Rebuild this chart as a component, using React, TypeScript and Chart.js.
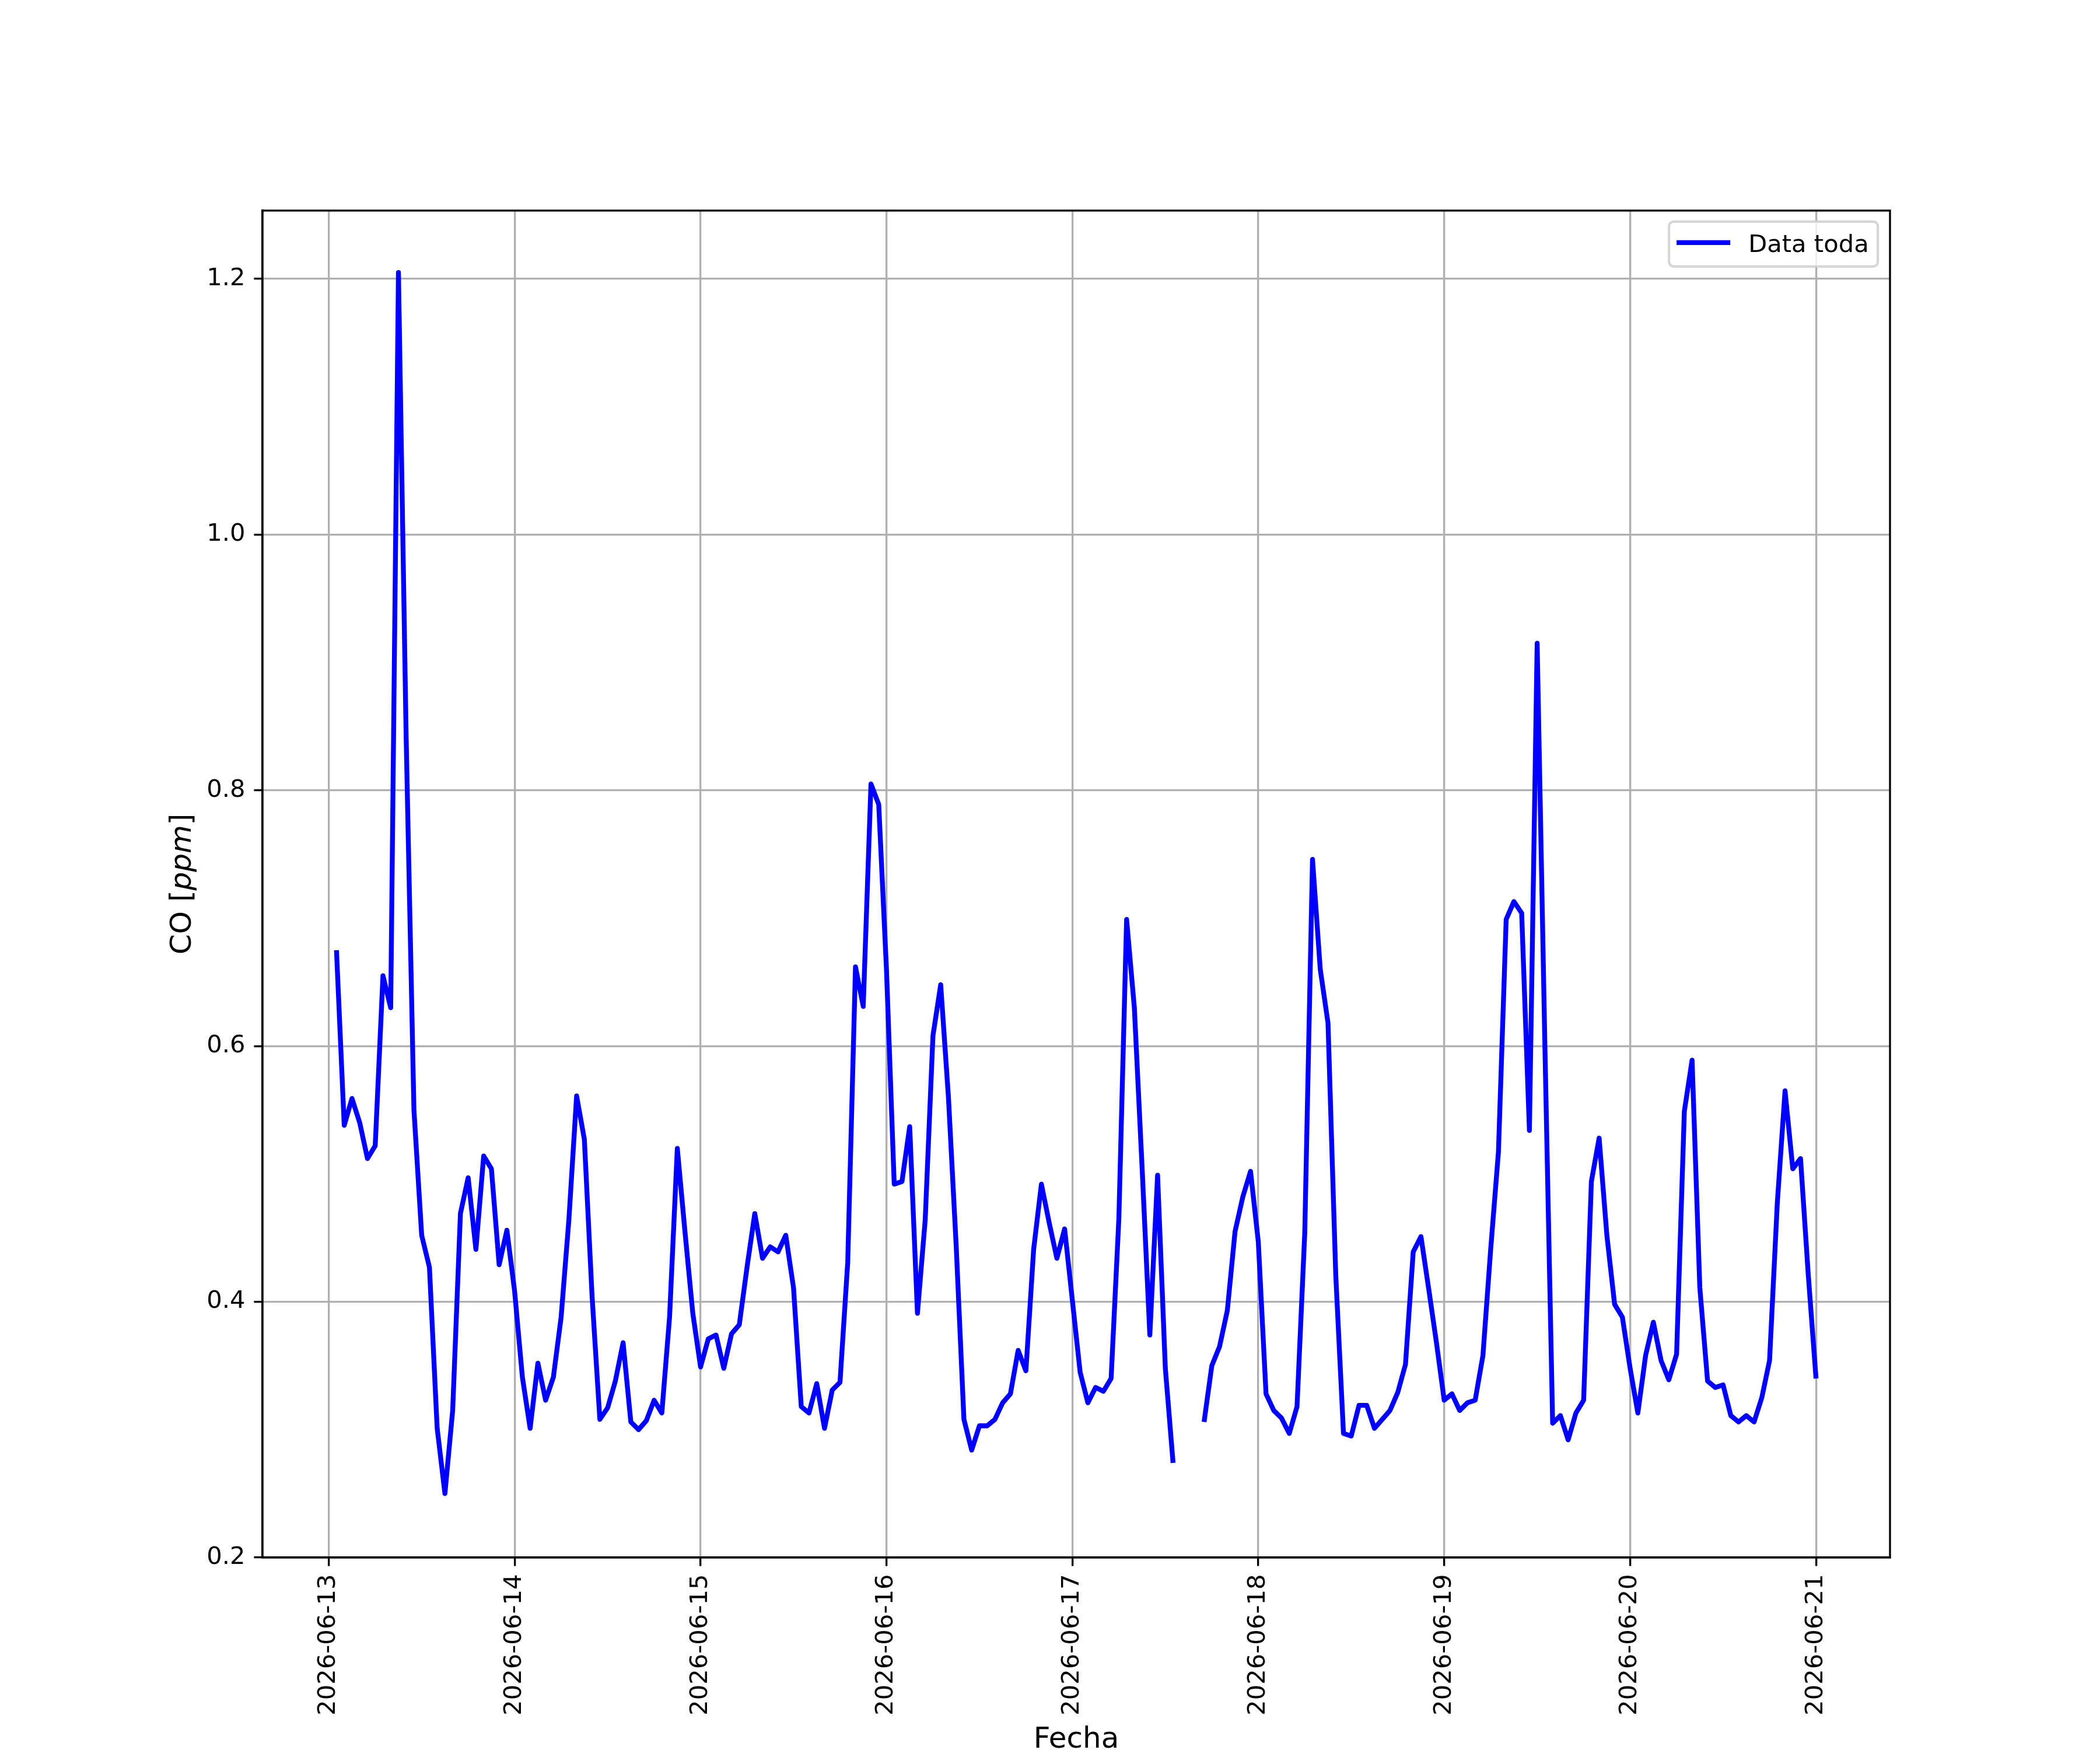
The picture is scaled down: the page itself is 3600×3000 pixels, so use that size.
import { useEffect, useRef } from 'react'

import { Chart, type ChartConfiguration, type Plugin, registerables } from 'chart.js'

Chart.register(...registerables)

// 1 pt a 300 dpi
const PT = 300 / 72
const FONT = '"DejaVu Sans", sans-serif'

// ticks del eje X (un día cada 24 h)
const dayLabels = [
  '2026-06-13', '2026-06-14', '2026-06-15', '2026-06-16', '2026-06-17',
  '2026-06-18', '2026-06-19', '2026-06-20', '2026-06-21',
]
const yTicks = [0.2, 0.4, 0.6, 0.8, 1.0, 1.2]

// CO horario en ppm, de 01:00 a 24:00 de cada día
const co13 = [0.675, 0.538, 0.559, 0.54, 0.512, 0.522, 0.655, 0.63, 1.205, 0.84, 0.55, 0.452, 0.427, 0.301, 0.25, 0.315, 0.469, 0.497, 0.441, 0.514, 0.504, 0.429, 0.456, 0.408]
const co14 = [0.341, 0.301, 0.352, 0.323, 0.341, 0.388, 0.464, 0.561, 0.527, 0.404, 0.308, 0.317, 0.338, 0.368, 0.306, 0.3, 0.307, 0.323, 0.313, 0.388, 0.52, 0.454, 0.391, 0.349]
const co15 = [0.371, 0.374, 0.348, 0.375, 0.382, 0.427, 0.469, 0.434, 0.443, 0.439, 0.452, 0.411, 0.318, 0.313, 0.336, 0.301, 0.331, 0.337, 0.431, 0.662, 0.631, 0.805, 0.789, 0.66]
const co16 = [0.492, 0.494, 0.537, 0.391, 0.464, 0.608, 0.648, 0.56, 0.444, 0.308, 0.284, 0.303, 0.303, 0.308, 0.321, 0.328, 0.362, 0.346, 0.441, 0.492, 0.462, 0.434, 0.457, 0.401]
const co17 = [0.345, 0.321, 0.333, 0.33, 0.34, 0.465, 0.699, 0.63, 0.505, 0.374, 0.499, 0.348, 0.274, null, null, null, 0.306, 0.35, 0.365, 0.393, 0.455, 0.482, 0.502, 0.447]
const co18 = [0.328, 0.315, 0.309, 0.297, 0.318, 0.454, 0.746, 0.66, 0.618, 0.421, 0.297, 0.295, 0.319, 0.319, 0.301, 0.308, 0.315, 0.329, 0.351, 0.439, 0.451, 0.41, 0.368, 0.323]
const co19 = [0.328, 0.315, 0.321, 0.323, 0.358, 0.441, 0.517, 0.699, 0.713, 0.704, 0.534, 0.915, 0.6, 0.305, 0.311, 0.292, 0.313, 0.323, 0.494, 0.528, 0.452, 0.398, 0.388, 0.348]
const co20 = [0.313, 0.358, 0.384, 0.354, 0.339, 0.359, 0.549, 0.589, 0.411, 0.338, 0.333, 0.335, 0.311, 0.306, 0.311, 0.306, 0.325, 0.354, 0.477, 0.565, 0.504, 0.512, 0.421, 0.34]

const coDays = [co13, co14, co15, co16, co17, co18, co19, co20]

// marco superior/derecho, leyenda y títulos de los ejes (ppm en cursiva)
const decorPlugin: Plugin<'line'> = {
  id: 'decor',
  afterDatasetsDraw(chart) {
    const { ctx, chartArea: a } = chart
    ctx.save()
    ctx.strokeStyle = '#000'
    ctx.lineWidth = 0.8 * PT
    ctx.strokeRect(a.left, a.top, a.right - a.left, a.bottom - a.top)

    // leyenda
    const bw = 358
    const bh = 77
    const bx = a.right - 0.5 * 10 * PT - bw
    const by = a.top + 0.5 * 10 * PT - 2
    ctx.beginPath()
    ctx.roundRect(bx, by, bw, bh, 8)
    ctx.fillStyle = 'rgba(255,255,255,0.8)'
    ctx.fill()
    ctx.lineWidth = 1 * PT
    ctx.strokeStyle = 'rgba(204,204,204,0.8)'
    ctx.stroke()

    ctx.beginPath()
    ctx.moveTo(bx + 13, by + 36)
    ctx.lineTo(bx + 105, by + 36)
    ctx.strokeStyle = '#0000ff'
    ctx.lineWidth = 2 * PT
    ctx.stroke()

    ctx.fillStyle = '#000'
    ctx.font = `${10 * PT}px ${FONT}`
    ctx.textBaseline = 'alphabetic'
    ctx.textAlign = 'left'
    ctx.fillText('Data toda', bx + 136, by + 52)

    // título eje X
    const size = 12 * PT
    const normal = `${size}px ${FONT}`
    ctx.font = normal
    ctx.textAlign = 'center'
    ctx.fillText('Fecha', (a.left + a.right) / 2, 2996)

    // título eje Y
    ctx.textAlign = 'left'
    const italic = `oblique ${size}px ${FONT}`
    const parts: [string, string][] = [['CO [', normal], ['ppm', italic], [']', normal]]
    let total = 0
    const widths = parts.map(([t, f]) => {
      ctx.font = f
      const w = ctx.measureText(t).width
      total += w
      return w
    })
    ctx.translate(327, (a.top + a.bottom) / 2)
    ctx.rotate(-Math.PI / 2)
    let x = -total / 2
    parts.forEach(([t, f], i) => {
      ctx.font = f
      ctx.fillText(t, x, 0)
      x += widths[i]
    })
    ctx.restore()
  },
}

export default function App() {
  const canvasRef = useRef<HTMLCanvasElement>(null)

  useEffect(() => {
    document.body.style.margin = '0'
    if (!canvasRef.current) return

    const points = coDays.flatMap((day, d) =>
      day.map((v, h) => ({ x: d * 24 + h + 1, y: v as number })),
    )

    const config: ChartConfiguration<'line'> = {
      type: 'line',
      data: {
        datasets: [
          {
            label: 'Data toda',
            data: points,
            borderColor: '#0000ff',
            borderWidth: 2 * PT,
            borderJoinStyle: 'round',
            pointRadius: 0,
            tension: 0,
            spanGaps: false,
          },
        ],
      },
      options: {
        responsive: false,
        devicePixelRatio: 1,
        animation: false,
        layout: { padding: { top: 361, right: 360, left: 0, bottom: 0 } },
        plugins: {
          legend: { display: false },
          tooltip: { enabled: false },
        },
        scales: {
          x: {
            type: 'linear',
            min: -8.55,
            max: 201.55,
            afterBuildTicks: (scale) => {
              scale.ticks = dayLabels.map((_, i) => ({ value: i * 24 }))
            },
            afterFit: (scale) => {
              scale.height = 330
            },
            ticks: {
              autoSkip: false,
              minRotation: 90,
              maxRotation: 90,
              padding: 14,
              color: '#000',
              font: { family: FONT, size: 10 * PT },
              callback: (value) => dayLabels[Math.round(Number(value) / 24)],
            },
            grid: {
              color: '#b0b0b0',
              lineWidth: 0.8 * PT,
              tickColor: '#000',
              tickWidth: 0.8 * PT,
              tickLength: 3.5 * PT,
            },
            border: { display: true, color: '#000', width: 0.8 * PT },
          },
          y: {
            type: 'linear',
            min: 0.2,
            max: 1.2534,
            afterBuildTicks: (scale) => {
              scale.ticks = yTicks.map((v) => ({ value: v }))
            },
            afterFit: (scale) => {
              scale.width = 450
            },
            ticks: {
              padding: 15,
              color: '#000',
              font: { family: FONT, size: 10 * PT },
              callback: (value) => Number(value).toFixed(1),
            },
            grid: {
              color: '#b0b0b0',
              lineWidth: 0.8 * PT,
              tickColor: '#000',
              tickWidth: 0.8 * PT,
              tickLength: 3.5 * PT,
            },
            border: { display: true, color: '#000', width: 0.8 * PT },
          },
        },
      },
      plugins: [decorPlugin],
    }

    const chart = new Chart(canvasRef.current, config)
    return () => chart.destroy()
  }, [])

  return (
    <div style={{ width: 3600, height: 3000, background: '#fff' }}>
      <canvas ref={canvasRef} width={3600} height={3000} style={{ width: 3600, height: 3000 }} />
    </div>
  )
}
